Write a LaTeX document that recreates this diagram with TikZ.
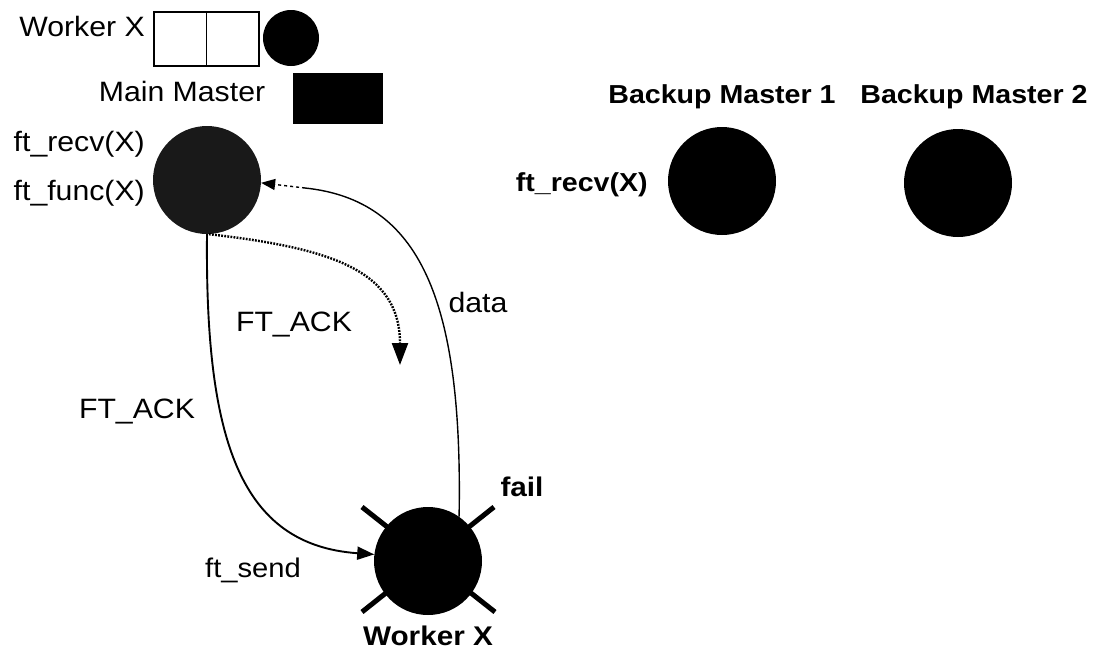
\documentclass[tikz,border=0pt]{standalone}
\usepackage{fontspec}
\setmainfont{Liberation Sans}
\usetikzlibrary{arrows.meta}
\begin{document}
\begin{tikzpicture}[x=1pt,y=-1pt,
  lbl/.style={font=\fontsize{28}{32}\selectfont, inner sep=0pt, xscale=1.08},
  blbl/.style={font=\fontsize{26}{30}\selectfont\bfseries, inner sep=0pt, xscale=1.1},
  ball/.style={circle, fill=black, minimum size=108pt, inner sep=0pt},
  cell/.style={draw, line width=1.6pt, minimum width=52.5pt, minimum height=54pt, inner sep=0pt},
  conn/.style={line width=1.9pt},
  thinconn/.style={line width=1.4pt},
  cross/.style={line width=5pt},
]
\useasboundingbox (0,0) rectangle (1096,651);

% legend
\node[lbl, anchor=east] (wlab) at (145,26) {Worker X};
\node[cell] (c1) at (180.25,39) {};
\node[cell] (c2) at (232.75,39) {};
\node[circle, fill=black, minimum size=56pt, inner sep=0pt] (wcirc) at (291,38) {};
\node[lbl] (mmlab) at (182,91) {Main Master};
\node[fill=black, minimum width=90pt, minimum height=51pt, inner sep=0pt] (mmrect) at (338,98.5) {};

% main master
\node[ball, fill=black!90] (mm) at (207,180) {};
\node[lbl, anchor=east] (recv1) at (145,144) {ft\_recv(X)};
\node[lbl, anchor=east] (func1) at (145,193) {ft\_func(X)};

% backup masters
\node[blbl] (bm1lab) at (722,97) {Backup Master 1};
\node[blbl] (bm2lab) at (974,97) {Backup Master 2};
\node[ball] (bm1) at (722,181) {};
\node[ball] (bm2) at (958,183) {};
\node[blbl, anchor=east] (recv2) at (648,185) {ft\_recv(X)};

% failed worker
\coordinate (xa) at (362,507);
\coordinate (xb) at (495,612);
\coordinate (xc) at (362,612);
\coordinate (xd) at (494,507);
\draw[cross] (xa) -- (xb);
\draw[cross] (xc) -- (xd);
\node[ball] (wx) at (428,561) {};
\node[blbl, font=\fontsize{27}{30}\selectfont\bfseries] (wxlab) at (428,636) {Worker X};
\node[blbl, font=\fontsize{27}{30}\selectfont\bfseries] (fail) at (522,487) {fail};
\node[lbl, font=\fontsize{27}{30}\selectfont] (send) at (253,570) {ft\_send};

% labels on connectors
\node[lbl] (ack1) at (137,412) {FT\_ACK};
\node[lbl] (ack2) at (294,325) {FT\_ACK};
\node[lbl] (data) at (478,302) {data};

% connectors
\draw[conn, -{Triangle[length=17pt,width=13pt]}] (mm.south) .. controls (205,440) and (240,545) .. (wx.173);
\coordinate (dotend) at (400,365);
\draw[line width=2.4pt, dash pattern=on 1.8pt off 1.3pt, -{Triangle[length=22pt,width=16pt]}] (mm.-88) .. controls (330,248) and (400,270) .. (dotend);
\coordinate (dmid) at (305,188);
\draw[thinconn] (wx.55) .. controls (463,300) and (420,200) .. (dmid);
\draw[thinconn, dashed, -{Triangle[length=14pt,width=11pt]}] (dmid) -- (mm.-3);
\end{tikzpicture}
\end{document}
